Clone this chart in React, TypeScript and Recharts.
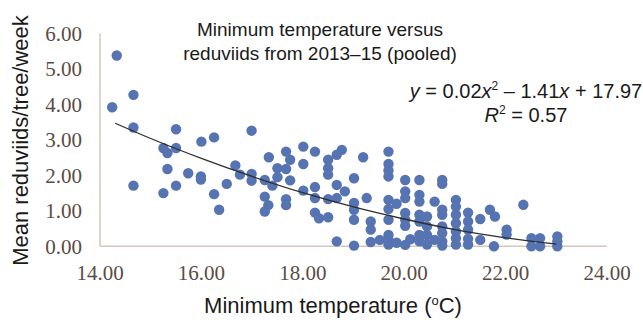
import { Scatter, ScatterChart, XAxis, YAxis } from "recharts";

// minimum temperature (°C) and mean reduviids per tree per week, pooled 2013–15
const tempC = [
  14.24, 14.33, 14.66, 14.66, 14.66, 15.25, 15.33, 15.33, 15.25, 15.5, 15.5, 15.5, 15.74, 15.99, 15.99, 16.0,
  16.25, 16.25, 16.35, 16.5, 16.67, 16.76, 16.99, 16.99, 16.99, 17.25, 17.33, 17.4, 17.5, 17.5, 17.67, 17.67,
  17.75, 17.75, 17.25, 17.32, 17.25, 17.67, 17.67, 18.01, 18.01, 18.01, 18.24, 18.24, 18.24, 18.24, 18.32,
  18.5, 18.5, 18.5, 18.5, 18.5, 18.67, 18.77, 18.67, 18.83, 18.67, 18.67, 19.01, 19.01, 19.01, 19.01, 19.01,
  19.19, 19.26, 19.34, 19.34, 19.34, 19.52,
  19.69, 19.69, 19.69, 19.69, 19.69, 19.69, 19.69, 19.69, 19.69, 19.69, 19.85, 19.85,
  20.02, 20.02, 20.02, 20.02, 20.02, 20.02, 20.02, 20.12,
  20.3, 20.3, 20.3, 20.3, 20.3, 20.3, 20.3, 20.45, 20.45, 20.45, 20.45, 20.6, 20.6,
  20.75, 20.75, 20.75, 20.75, 20.75, 20.75, 20.75, 20.75,
  21.02, 21.02, 21.02, 21.02, 21.02, 21.02, 21.02, 21.26, 21.26, 21.26, 21.26, 21.26, 21.5, 21.5,
  21.69, 21.79, 21.77, 22.02, 22.02, 22.35, 22.51, 22.51, 22.68, 22.68, 23.02, 23.02, 23.02,
];
const reduviids = [
  3.92, 5.38, 4.27, 3.35, 1.71, 2.77, 2.63, 2.18, 1.5, 3.3, 2.77, 1.71, 2.06, 1.97, 1.88, 2.95,
  3.07, 1.47, 1.03, 1.76, 2.28, 2.02, 3.26, 2.04, 1.85, 1.87, 2.51, 1.71, 2.2, 1.95, 2.67, 2.18,
  2.44, 1.86, 1.4, 1.16, 0.98, 1.33, 1.16, 2.81, 2.32, 1.57, 2.67, 1.67, 1.36, 0.95, 0.79,
  2.44, 2.2, 2.02, 1.33, 0.82, 2.58, 2.72, 1.73, 1.55, 1.36, 0.14, 1.92, 1.22, 1.03, 0.75, 0.02,
  2.51, 1.36, 0.7, 0.47, 0.12, 0.18,
  2.67, 2.32, 2.14, 1.97, 1.31, 1.05, 0.75, 0.32, 0.18, 0.05, 1.2, 0.1,
  1.87, 1.55, 1.36, 0.94, 0.75, 0.58, 0.04, 0.2,
  1.87, 1.45, 1.26, 0.89, 0.7, 0.32, 0.14, 0.84, 0.56, 0.32, 0.05, 1.26, 0.18,
  1.87, 1.76, 1.03, 0.89, 0.56, 0.37, 0.14, 0.02,
  1.31, 1.12, 0.89, 0.65, 0.42, 0.23, 0.05, 0.95, 0.7, 0.47, 0.21, 0.05, 0.77, 0.18,
  1.03, 0.84, 0.0, 0.47, 0.33, 1.17, 0.23, 0.0, 0.23, 0.0, 0.28, 0.14, 0.0,
];

// polynomial trendline
const trendTemp = [14.3, 15, 16, 17, 18, 19, 20, 21, 22, 23];
const trendFit = [3.47, 3.04, 2.48, 1.97, 1.51, 1.11, 0.77, 0.47, 0.24, 0.06];

const xTicks = [14, 16, 18, 20, 22, 24];
const yTicks = [0, 1, 2, 3, 4, 5, 6];

const points = tempC.map((x, i) => ({ x, y: reduviids[i] }));
const trend = trendTemp.map((x, i) => ({ x, y: trendFit[i] }));

const tickStyle = { fill: "#5a4c45", fontSize: 21, fontFamily: "Liberation Serif" };
const sans = "Liberation Sans, Arial, sans-serif";

const Dot = (p: any) => <circle cx={p.cx} cy={p.cy} r={5.2} fill="#5673b2" />;
const NoDot = () => <g />;

export default function App() {
  return (
    <div style={{ position: "absolute", left: 0, top: 0, width: 643, height: 322, background: "#fff" }}>
      <ScatterChart width={643} height={322} margin={{ top: 33.5, right: 36, bottom: 45.7, left: 30 }}>
        <XAxis
          type="number"
          dataKey="x"
          domain={[14, 24]}
          ticks={xTicks}
          tickFormatter={(v: number) => v.toFixed(2)}
          height={30}
          axisLine={{ stroke: "#d6c7bb", strokeWidth: 1.5 }}
          tickLine={false}
          tickMargin={13}
          tick={tickStyle}
        />
        <YAxis
          type="number"
          dataKey="y"
          domain={[0, 6]}
          ticks={yTicks}
          tickFormatter={(v: number) => v.toFixed(2)}
          width={70}
          axisLine={{ stroke: "#d6c7bb", strokeWidth: 1.5 }}
          tickLine={false}
          tickMargin={12}
          tick={tickStyle}
        />
        <Scatter data={points} shape={Dot} isAnimationActive={false} />
        <Scatter
          data={trend}
          line={{ stroke: "#2e2e2e", strokeWidth: 1.3 }}
          lineJointType="monotoneX"
          shape={NoDot}
          isAnimationActive={false}
        />
      </ScatterChart>
      <svg width={643} height={322} style={{ position: "absolute", left: 0, top: 0, pointerEvents: "none" }}>
        <g fontFamily={sans} fill="#1a1a1a">
          <text x={320} y={36} fontSize={19} textAnchor="middle">Minimum temperature versus</text>
          <text x={320} y={60} fontSize={19} textAnchor="middle">reduviids from 2013–15 (pooled)</text>
          <text x={526} y={98} fontSize={20} textAnchor="middle">
            <tspan fontStyle="italic">y</tspan> = 0.02<tspan fontStyle="italic">x</tspan>
            <tspan fontSize={12} dy={-8}>2</tspan>
            <tspan dy={8}> – 1.41</tspan><tspan fontStyle="italic">x</tspan> + 17.97
          </text>
          <text x={526} y={122} fontSize={20} textAnchor="middle">
            <tspan fontStyle="italic">R</tspan>
            <tspan fontSize={12} dy={-8}>2</tspan>
            <tspan dy={8}> = 0.57</tspan>
          </text>
          <text x={333} y={313} fontSize={22} textAnchor="middle">
            Minimum temperature (<tspan fontSize={13} dy={-8}>o</tspan><tspan dy={8}>C)</tspan>
          </text>
          <text x={28} y={140.5} fontSize={22} textAnchor="middle" transform="rotate(-90 28 140.5)">
            Mean reduviids/tree/week
          </text>
        </g>
      </svg>
    </div>
  );
}
